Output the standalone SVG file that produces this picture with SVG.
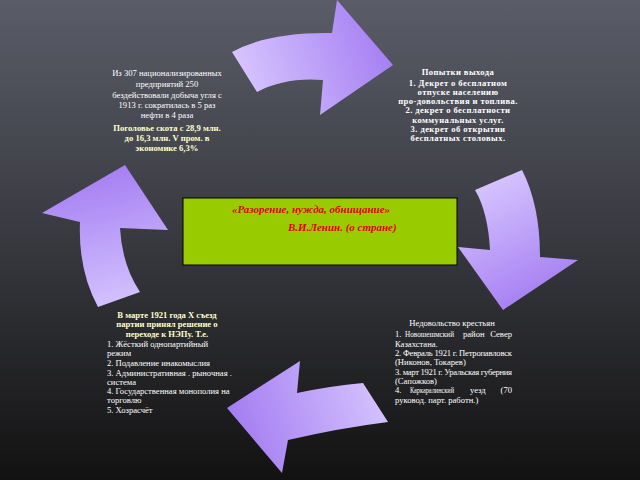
<svg xmlns="http://www.w3.org/2000/svg" width="640" height="480" viewBox="0 0 640 480">
<defs>
<linearGradient id="bg" x1="0" y1="0" x2="0" y2="1">
<stop offset="0" stop-color="#5a5c68"/>
<stop offset="0.5" stop-color="#38393f"/>
<stop offset="1" stop-color="#121212"/>
</linearGradient>
<linearGradient id="gTop" gradientUnits="userSpaceOnUse" x1="240" y1="90" x2="390" y2="40">
<stop offset="0" stop-color="#d8c6ff"/>
<stop offset="1" stop-color="#a47ef2"/>
</linearGradient>
<linearGradient id="gRight" gradientUnits="userSpaceOnUse" x1="480" y1="180" x2="540" y2="300">
<stop offset="0" stop-color="#d8c6ff"/>
<stop offset="1" stop-color="#a47ef2"/>
</linearGradient>
<linearGradient id="gBottom" gradientUnits="userSpaceOnUse" x1="390" y1="390" x2="240" y2="440">
<stop offset="0" stop-color="#d8c6ff"/>
<stop offset="1" stop-color="#a47ef2"/>
</linearGradient>
<linearGradient id="gLeft" gradientUnits="userSpaceOnUse" x1="120" y1="305" x2="90" y2="170">
<stop offset="0" stop-color="#d4c2ff"/>
<stop offset="1" stop-color="#a47ef2"/>
</linearGradient>
</defs>
<style>
.t{font-family:"Liberation Serif","DejaVu Serif",serif;font-size:8.6px;fill:#ffffff}
.y{fill:#ffffcc;font-weight:bold}
.b{font-weight:bold}
.c{text-anchor:middle}
.e{text-anchor:end}
.q{font-family:"Liberation Serif","DejaVu Serif",serif;font-size:11px;font-style:italic;font-weight:bold;fill:#e00000}
</style>
<rect x="0" y="0" width="640" height="480" fill="url(#bg)"/>
<g id="connectors">
<path d="M232,52 Q268,32 332,33 L337,0 L393,65 L320,115 L323,80 Q285,77 257,92 Z" fill="url(#gTop)"/>
<path d="M475,190 Q488,212 490,250 L458,247 L503,310 L578,260 L540,257 Q540,205 522,170 Z" fill="url(#gRight)"/>
<path d="M363,383 Q330,386 297,393 L300,361 L227,408 L282,473 L288,440 Q340,428 388,422 Z" fill="url(#gBottom)"/>
<path d="M140,292 Q122,265 120,228 L168,230 L125,165 L42,213 L80,222 Q78,270 98,307 Z" fill="url(#gLeft)"/>
</g>
<g id="center">
<rect x="183" y="198" width="274" height="67" fill="#99cc00" stroke="#000" stroke-width="1"/>
<text class="q" x="232" y="213">«Разорение, нужда, обнищание»</text>
<text class="q" x="288" y="231">В.И.Ленин. (о стране)</text>
</g>
<g id="node-top-left">
<text class="t c" x="167" y="76">Из 307 национализированных</text>
<text class="t c" x="167" y="87">предприятий 250</text>
<text class="t c" x="167" y="98">бездействовали добыча угля с</text>
<text class="t c" x="167" y="108">1913 г. сократилась в 5 раз</text>
<text class="t c" x="167" y="118">нефти в 4 раза</text>
<text class="t c y" x="167" y="131">Поголовье скота с 28,9 млн.</text>
<text class="t c y" x="167" y="141">до 16,3 млн. V пром. в</text>
<text class="t c y" x="167" y="151">экономике 6,3%</text>
</g>
<g id="node-top-right">
<text class="t c b" x="458" y="75" letter-spacing="0.4">Попытки выхода</text>
<text class="t c b" x="458" y="86" letter-spacing="0.4">1. Декрет о бесплатном</text>
<text class="t c b" x="458" y="95" letter-spacing="0.4">отпуске населению</text>
<text class="t c b" x="458" y="104" letter-spacing="0.4">про-довольствия и топлива.</text>
<text class="t c b" x="458" y="113" letter-spacing="0.4">2. декрет о бесплатности</text>
<text class="t c b" x="458" y="123" letter-spacing="0.4">коммунальных услуг.</text>
<text class="t c b" x="458" y="132" letter-spacing="0.4">3. декрет об открытии</text>
<text class="t c b" x="458" y="141" letter-spacing="0.4">бесплатных столовых.</text>
</g>
<g id="node-bottom-left">
<text class="t c y" x="167" y="318">В марте 1921 года X  съезд</text>
<text class="t c y" x="167" y="327">партии принял решение о</text>
<text class="t c y" x="167" y="337">переходе к НЭПу. Т.е.</text>
<text class="t" x="107" y="347">1. Жёсткий однопартийный</text>
<text class="t" x="107" y="356">режим</text>
<text class="t" x="107" y="366">2. Подавление инакомыслия</text>
<text class="t" x="107" y="376">3. Административная . рыночная .</text>
<text class="t" x="107" y="385">система</text>
<text class="t" x="107" y="394">4. Государственная монополия на</text>
<text class="t" x="107" y="403">торговлю</text>
<text class="t" x="107" y="413">5. Хозрасчёт</text>
</g>
<g id="node-bottom-right">
<text class="t c" x="452" y="326">Недовольство крестьян</text>
<text class="t" x="395" y="337">1.</text>
<text class="t" x="405" y="337" textLength="49" lengthAdjust="spacingAndGlyphs">Новошешмский</text>
<text class="t" x="463" y="337">район</text>
<text class="t e" x="512" y="337">Север</text>
<text class="t" x="395" y="347">Казахстана.</text>
<text class="t" x="395" y="356" textLength="117" lengthAdjust="spacing">2. Февраль 1921 г. Петропавловск</text>
<text class="t" x="395" y="365">(Никонов, Токарев)</text>
<text class="t" x="395" y="375" textLength="117" lengthAdjust="spacing">3. март 1921 г. Уральская губерния</text>
<text class="t" x="395" y="384">(Сапожков)</text>
<text class="t" x="395" y="393">4.</text>
<text class="t" x="410" y="393" textLength="44" lengthAdjust="spacingAndGlyphs">Каркаралинский</text>
<text class="t" x="470" y="393">уезд</text>
<text class="t e" x="512" y="393">(70</text>
<text class="t" x="395" y="403">руковод. парт. работн.)</text>
</g>
</svg>
